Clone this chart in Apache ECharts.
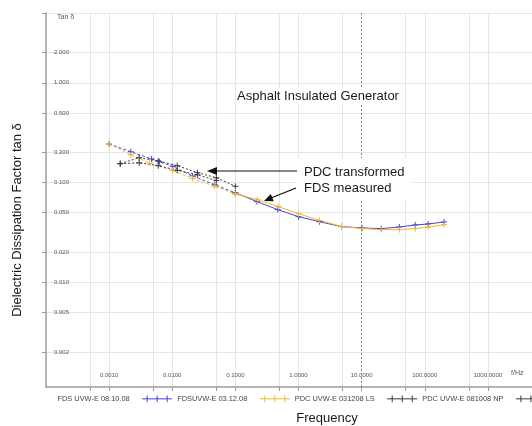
<!DOCTYPE html>
<html>
<head>
<meta charset="utf-8">
<script src="https://cdn.jsdelivr.net/npm/echarts@6/dist/echarts.min.js"></script>
<style>
html,body{margin:0;padding:0;background:#fff;}
#chart{width:532px;height:426px;}
</style>
</head>
<body>
<div id="chart"></div>
<script>
// frequency in Hz, tan delta
var fdsLowFreq = [0.001, 0.0022, 0.0047, 0.0063, 0.0102, 0.021, 0.047, 0.1];
var fdsLowTan = [0.244, 0.204, 0.173, 0.162, 0.145, 0.117, 0.0955, 0.079];
var fdsFreq = [0.1, 0.22, 0.47, 1, 2.15, 4.8, 10.3, 20.5, 39.6, 70.6, 113, 203];
var fdsTan = [0.079, 0.0646, 0.0537, 0.0457, 0.0407, 0.0363, 0.0352, 0.0347, 0.036, 0.0377, 0.0386, 0.0404];

var pdcLsLowFreq = [0.001, 0.0022, 0.0044, 0.0102, 0.021, 0.047, 0.1];
var pdcLsLowTan = [0.244, 0.19, 0.157, 0.132, 0.11, 0.092, 0.077];
var pdcLsFreq = [0.1, 0.224, 0.48, 1, 2.15, 4.8, 10.3, 20.5, 39.6, 70.6, 113, 203];
var pdcLsTan = [0.077, 0.0676, 0.0575, 0.049, 0.0419, 0.0365, 0.0347, 0.0339, 0.0339, 0.0347, 0.0358, 0.038];

var pdcNpFreq = [0.0015, 0.003, 0.006, 0.012, 0.025, 0.05, 0.1];
var pdcNpTan = [0.155, 0.178, 0.165, 0.148, 0.126, 0.112, 0.092];
var pdcNp2Freq = [0.0015, 0.003, 0.006, 0.012, 0.025, 0.05];
var pdcNp2Tan = [0.155, 0.158, 0.148, 0.133, 0.12, 0.105];

var legendNames = ['FDS UVW-E 08.10.08', 'FDSUVW-E 03.12.08', 'PDC UVW-E 031208 LS', 'PDC UVW-E 081008 NP', 'PDC UVW-E 081008 LS'];

var xTicks = [0.0005, 0.001, 0.005, 0.01, 0.05, 0.1, 0.5, 1, 5, 10, 50, 100, 500, 1000];
var xLabels = [0.001, 0.01, 0.1, 1, 10, 100, 1000];
var yTicks = [4.99, 2, 1, 0.5, 0.2, 0.1, 0.05, 0.02, 0.01, 0.005, 0.002];
var yLabels = [2, 1, 0.5, 0.2, 0.1, 0.05, 0.02, 0.01, 0.005, 0.002];

function pairs(xs, ys){
    var out = [];
    for(var i = 0; i < xs.length; i++){
        out.push([xs[i], ys[i]]);
    }
    return out;
}

var cross = 'path://M0,5L10,5M5,0L5,10';
var legendCross = 'path://M0,4L36,4M6,0L6,8M18,0L18,8M30,0L30,8';
var grey = '#9a9a9a';
var font = 'Liberation Sans, Arial, sans-serif';

function lineSeries(name, data, color, type){
    return {
        name: name,
        type: 'line',
        data: data,
        symbol: cross,
        symbolSize: 6,
        showSymbol: true,
        lineStyle: {color: color, width: 1, type: type},
        itemStyle: {color: color, borderColor: color, borderWidth: 1},
        emphasis: {disabled: true},
        z: 3
    };
}

var blue = '#4646d8';
var orange = '#f4b530';
var dark = '#3a3a3a';

var chart = echarts.init(document.getElementById('chart'));

var fdsSolid = lineSeries(legendNames[1], pairs(fdsFreq, fdsTan), blue, 'solid');
fdsSolid.markLine = {
    silent: true,
    symbol: ['none', 'none'],
    label: {show: false},
    lineStyle: {color: '#888', width: 1, type: [2, 2]},
    data: [{xAxis: 10}]
};

var option = {
    animation: false,
    grid: {left: 46, right: 0, top: 13, bottom: 39},
    xAxis: {
        type: 'log',
        min: 0.0001,
        max: 5000,
        axisLine: {lineStyle: {color: grey, width: 1.5}},
        axisTick: {customValues: xTicks, length: 4, lineStyle: {color: grey}},
        axisLabel: {
            customValues: xLabels, inside: true, margin: 9,
            fontSize: 6, color: '#555', fontFamily: font,
            formatter: function(v){ return Number(v).toFixed(4); }
        },
        splitLine: {show: true, lineStyle: {color: '#e6e6e6'}}
    },
    yAxis: {
        type: 'log',
        min: 0.0009,
        max: 5,
        axisLine: {show: true, lineStyle: {color: grey, width: 1.5}},
        axisTick: {show: true, customValues: yTicks, length: 4, lineStyle: {color: grey}},
        axisLabel: {
            customValues: yLabels, inside: true, margin: 8,
            fontSize: 6, color: '#555', fontFamily: font,
            formatter: function(v){ return Number(v).toFixed(3); }
        },
        splitLine: {show: true, lineStyle: {color: '#e6e6e6'}}
    },
    legend: {
        left: 17,
        top: 390,
        width: 1500,
        itemWidth: 30,
        itemHeight: 8,
        itemGap: 12,
        icon: legendCross,
        itemStyle: {borderWidth: 1},
        textStyle: {fontSize: 7.4, color: '#444', fontFamily: font},
        data: [
            {name: legendNames[0], itemStyle: {opacity: 0}},
            legendNames[1], legendNames[2], legendNames[3], legendNames[4]
        ]
    },
    series: [
        lineSeries(legendNames[0], [], dark, 'solid'),
        lineSeries(legendNames[1], pairs(fdsLowFreq, fdsLowTan), blue, [3, 2]),
        fdsSolid,
        lineSeries(legendNames[2], pairs(pdcLsLowFreq, pdcLsLowTan), orange, [3, 2]),
        lineSeries(legendNames[2], pairs(pdcLsFreq, pdcLsTan), orange, 'solid'),
        lineSeries(legendNames[3], pairs(pdcNpFreq, pdcNpTan), dark, [2, 2]),
        lineSeries(legendNames[4], pairs(pdcNp2Freq, pdcNp2Tan), dark, [2, 2])
    ],
    graphic: [
        {type: 'rect', z: 50, shape: {x: 236, y: 88, width: 166, height: 17}, style: {fill: '#fff'}},
        {type: 'text', z: 51, x: 318, y: 96, style: {text: 'Asphalt Insulated Generator', font: '13px ' + font, fill: '#1a1a1a', textAlign: 'center', textVerticalAlign: 'middle'}},
        {type: 'rect', z: 50, shape: {x: 297, y: 158, width: 115, height: 42}, style: {fill: '#fff'}},
        {type: 'text', z: 51, x: 304, y: 172, style: {text: 'PDC transformed', font: '13px ' + font, fill: '#1a1a1a', textVerticalAlign: 'middle'}},
        {type: 'text', z: 51, x: 304, y: 188, style: {text: 'FDS measured', font: '13px ' + font, fill: '#1a1a1a', textVerticalAlign: 'middle'}},
        {type: 'polyline', z: 51, shape: {points: [[297, 171], [215, 171]]}, style: {stroke: '#111', lineWidth: 1.2, fill: null}},
        {type: 'polygon', z: 51, shape: {points: [[207, 171], [217, 167], [217, 175]]}, style: {fill: '#111'}},
        {type: 'polyline', z: 51, shape: {points: [[296, 188], [271, 198]]}, style: {stroke: '#111', lineWidth: 1.2, fill: null}},
        {type: 'polygon', z: 51, shape: {points: [[264, 201], [273.8, 201.3], [270.8, 193.9]]}, style: {fill: '#111'}},
        {type: 'text', z: 51, x: 57, y: 17, style: {text: 'Tan δ', font: '7px ' + font, fill: '#555', textVerticalAlign: 'middle'}},
        {type: 'text', z: 51, x: 511, y: 373, style: {text: 'f/Hz', font: '7px ' + font, fill: '#555', textVerticalAlign: 'middle'}},
        {type: 'text', z: 51, x: 17, y: 220, rotation: Math.PI / 2, style: {text: 'Dielectric Dissipation Factor tan δ', font: '13px ' + font, fill: '#1a1a1a', textAlign: 'center', textVerticalAlign: 'middle'}},
        {type: 'text', z: 51, x: 327, y: 418, style: {text: 'Frequency', font: '13px ' + font, fill: '#1a1a1a', textAlign: 'center', textVerticalAlign: 'middle'}}
    ]
};

chart.setOption(option);
</script>
</body>
</html>
